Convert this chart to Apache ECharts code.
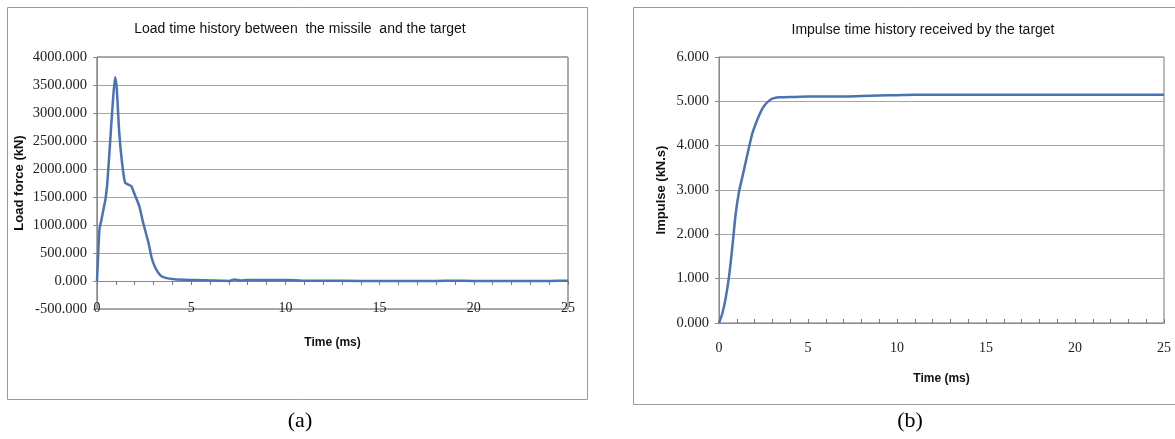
<!DOCTYPE html>
<html>
<head>
<meta charset="utf-8">
<script src="https://cdn.jsdelivr.net/npm/echarts@6/dist/echarts.min.js"></script>
<style>
html,body{margin:0;padding:0;background:#fff;}
#chart{width:1175px;height:439px;}
</style>
</head>
<body>
<div id="chart"></div>
<script>
// ---- Data (a): load force vs time ----
var loadTime = [0, 0.06, 0.13, 0.24, 0.36, 0.45, 0.55, 0.73, 0.85, 0.96, 1.04, 1.18, 1.33, 1.49, 1.64, 1.82, 2.0, 2.24, 2.45, 2.73, 2.9, 3.09, 3.36, 3.64, 4.1, 5.0, 5.5, 6.0, 6.5, 7.0, 7.3, 7.6, 8.0, 8.5, 9.0, 9.5, 10.0, 10.5, 11.0, 12.0, 14.0, 16.0, 18.0, 19.0, 20.0, 22.0, 24.0, 25.0];
var loadForce = [0, 450, 920, 1100, 1310, 1460, 1755, 2650, 3240, 3640, 3480, 2650, 2110, 1755, 1725, 1695, 1545, 1340, 1040, 685, 415, 240, 100, 55, 30, 18, 15, 10, 4, 2, 25, 8, 18, 20, 20, 18, 18, 15, 5, 3, 2, 0, 2, 6, 2, 0, 2, 3];

// ---- Data (b): impulse vs time ----
var impTime = [0, 0.19, 0.37, 0.56, 0.75, 0.94, 1.12, 1.31, 1.5, 1.69, 1.87, 2.06, 2.25, 2.43, 2.62, 2.81, 3.0, 3.37, 4.3, 5.0, 6.0, 7.0, 8.0, 9.0, 10.0, 11.0, 15.0, 20.0, 25.0];
var impValue = [0, 0.22, 0.55, 1.04, 1.72, 2.47, 2.95, 3.29, 3.63, 3.97, 4.27, 4.49, 4.68, 4.83, 4.94, 5.01, 5.06, 5.09, 5.10, 5.11, 5.11, 5.11, 5.12, 5.13, 5.14, 5.15, 5.15, 5.15, 5.15];

// ---- Text ----
var titleA = 'Load time history between  the missile  and the target';
var titleB = 'Impulse time history received by the target';
var yNameA = 'Load force (kN)';
var yNameB = 'Impulse (kN.s)';
var xName = 'Time (ms)';
var capA = '(a)';
var capB = '(b)';

function zip(xs, ys){ return xs.map(function(x,i){ return [x, ys[i]]; }); }

var sansFont = '"Liberation Sans", Arial, sans-serif';
var serifFont = '"Liberation Serif", "Times New Roman", serif';
var lineColor = '#4a73b5';
var gridColor = '#a6a6a6';

var chart = echarts.init(document.getElementById('chart'), null, {renderer:'canvas'});
chart.setOption({
  backgroundColor: '#fff',
  animation: false,
  graphic: [
    {type:'rect', shape:{x:7.5, y:7.5, width:580, height:392}, style:{fill:'none', stroke:'#9a9a9a', lineWidth:1}, z:-1},
    {type:'rect', shape:{x:633.5, y:7.5, width:560, height:397}, style:{fill:'none', stroke:'#9a9a9a', lineWidth:1}, z:-1},
    {type:'text', x:300, y:29, style:{text:titleA, font:'14px ' + sansFont, fill:'#111', textAlign:'center', textVerticalAlign:'middle'}},
    {type:'text', x:923, y:30, style:{text:titleB, font:'14px ' + sansFont, fill:'#111', textAlign:'center', textVerticalAlign:'middle'}},
    {type:'text', x:300, y:421, style:{text:capA, font:'22px ' + serifFont, fill:'#000', textAlign:'center', textVerticalAlign:'middle'}},
    {type:'text', x:910, y:421, style:{text:capB, font:'22px ' + serifFont, fill:'#000', textAlign:'center', textVerticalAlign:'middle'}}
  ],
  grid: [
    {left:97, top:57, width:471, height:252, show:true, borderColor:'#555', borderWidth:1, backgroundColor:'transparent'},
    {left:719, top:57, width:445, height:266, show:true, borderColor:'#777', borderWidth:1, backgroundColor:'transparent'}
  ],
  xAxis: [
    {type:'value', gridIndex:0, min:0, max:25, interval:1,
     axisLine:{show:true, onZero:true, lineStyle:{color:'#8a8a8a', width:1}},
     axisTick:{show:true, length:4, inside:false, lineStyle:{color:'#777'}},
     splitLine:{show:false},
     axisLabel:{margin:-8, fontFamily:serifFont, fontSize:14, color:'#222', formatter:function(v){ return v % 5 === 0 ? String(v) : ''; }},
     name:xName, nameLocation:'middle', nameGap:28,
     nameTextStyle:{fontFamily:sansFont, fontSize:12, fontWeight:'bold', color:'#111'}},
    {type:'value', gridIndex:1, min:0, max:25, interval:1,
     axisLine:{show:true, onZero:true, lineStyle:{color:'#8a8a8a', width:1}},
     axisTick:{show:true, length:4, inside:true, lineStyle:{color:'#777'}},
     splitLine:{show:false},
     axisLabel:{margin:18, fontFamily:serifFont, fontSize:14, color:'#222', formatter:function(v){ return v % 5 === 0 ? String(v) : ''; }},
     name:xName, nameLocation:'middle', nameGap:50,
     nameTextStyle:{fontFamily:sansFont, fontSize:12, fontWeight:'bold', color:'#111'}}
  ],
  yAxis: [
    {type:'value', gridIndex:0, min:-500, max:4000, interval:500,
     axisLine:{show:true, lineStyle:{color:'#8a8a8a'}},
     axisTick:{show:true, length:4, lineStyle:{color:'#8a8a8a'}},
     splitLine:{show:true, lineStyle:{color:gridColor, width:1}},
     axisLabel:{margin:10, fontFamily:serifFont, fontSize:14.5, color:'#222', formatter:function(v){ return v.toFixed(3); }},
     name:yNameA, nameLocation:'middle', nameGap:71, nameRotate:90,
     nameTextStyle:{fontFamily:sansFont, fontSize:13, fontWeight:'bold', color:'#111'}},
    {type:'value', gridIndex:1, min:0, max:6, interval:1,
     axisLine:{show:true, lineStyle:{color:'#8a8a8a'}},
     axisTick:{show:true, length:4, lineStyle:{color:'#8a8a8a'}},
     splitLine:{show:true, lineStyle:{color:gridColor, width:1}},
     axisLabel:{margin:10, fontFamily:serifFont, fontSize:14.5, color:'#222', formatter:function(v){ return v.toFixed(3); }},
     name:yNameB, nameLocation:'middle', nameGap:51, nameRotate:90,
     nameTextStyle:{fontFamily:sansFont, fontSize:13, fontWeight:'bold', color:'#111'}}
  ],
  series: [
    {type:'line', xAxisIndex:0, yAxisIndex:0, data:zip(loadTime, loadForce), showSymbol:false, smooth:0.2,
     lineStyle:{color:lineColor, width:2.5}},
    {type:'line', xAxisIndex:1, yAxisIndex:1, data:zip(impTime, impValue), showSymbol:false, smooth:0.3,
     lineStyle:{color:lineColor, width:2.5}}
  ]
});
</script>
</body>
</html>
